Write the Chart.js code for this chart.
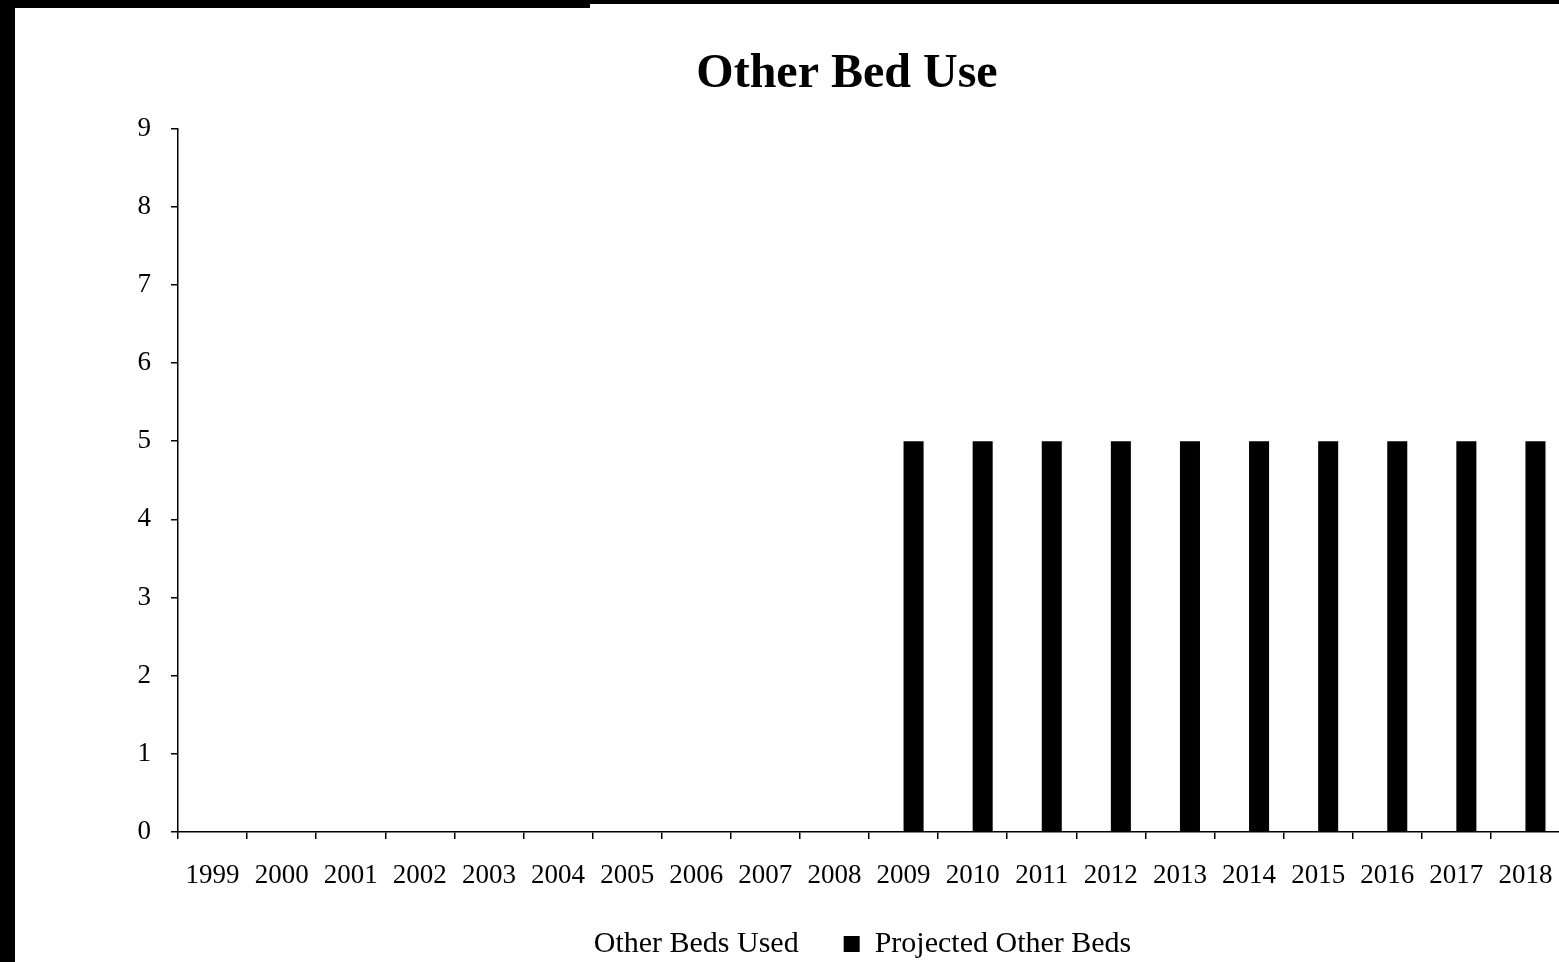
<!DOCTYPE html>
<html>
<head>
<meta charset="utf-8">
<title>Other Bed Use</title>
<script src="https://cdn.jsdelivr.net/npm/chart.js@4.4.0/dist/chart.umd.min.js"></script>
<style>
    html, body { margin: 0; padding: 0; background: #fff; overflow: hidden; }
    #wrap { position: absolute; left: 0; top: 0; width: 1700px; height: 969px; }
    .edge-left { position: absolute; left: 0; top: 0; width: 15px; height: 962px; background: #000; }
    .edge-top { position: absolute; left: 0; top: 0; width: 590px; height: 8px; background: #000; }
    .edge-top2 { position: absolute; left: 590px; top: 0; width: 969px; height: 4px; background: #000; }
</style>
</head>
<body>
<div id="wrap"><canvas id="bedChart" width="1700" height="969"></canvas></div>
<div class="edge-left"></div>
<div class="edge-top"></div>
<div class="edge-top2"></div>
<script>
const years = ['1999', '2000', '2001', '2002', '2003', '2004', '2005', '2006', '2007', '2008',
               '2009', '2010', '2011', '2012', '2013', '2014', '2015', '2016', '2017', '2018'];
const bedsUsed = [0, 0, 0, 0, 0, 0, 0, 0, 0, 0,
                  null, null, null, null, null, null, null, null, null, null];
const projectedBeds = [null, null, null, null, null, null, null, null, null, null,
                       5, 5, 5, 5, 5, 5, 5, 5, 5, 5];
const yTicks = [0, 1, 2, 3, 4, 5, 6, 7, 8, 9];

const serif = "'Liberation Serif', 'Times New Roman', serif";

document.addEventListener('DOMContentLoaded', function() {
    const ctx = document.getElementById('bedChart');

    new Chart(ctx, {
        type: 'bar',
        data: {
            labels: years,
            datasets: [
                {
                    label: 'Other Beds Used',
                    data: bedsUsed,
                    backgroundColor: '#ffffff',
                    borderWidth: 0,
                    categoryPercentage: 0.58,
                    barPercentage: 1.0
                },
                {
                    label: 'Projected Other Beds',
                    data: projectedBeds,
                    backgroundColor: '#000000',
                    borderWidth: 0,
                    categoryPercentage: 0.58,
                    barPercentage: 1.0
                }
            ]
        },
        options: {
            responsive: false,
            animation: false,
            devicePixelRatio: 1,
            // left padding shifts the centred title/legend to the right, y scale shrinks to match
            layout: { padding: { left: 134, right: 140, top: 46, bottom: 0 } },
            plugins: {
                title: {
                    display: true,
                    text: 'Other Bed Use',
                    color: '#000',
                    font: { family: serif, size: 48, weight: 'bold' },
                    padding: { top: 0, bottom: 25 }
                },
                legend: {
                    position: 'bottom',
                    labels: {
                        color: '#000',
                        font: { family: serif, size: 30 },
                        boxWidth: 16,
                        boxHeight: 16,
                        padding: 45
                    }
                },
                tooltip: { enabled: false }
            },
            scales: {
                x: {
                    grid: {
                        display: true,
                        drawOnChartArea: false,
                        drawTicks: true,
                        tickLength: 7,
                        color: '#000',
                        lineWidth: 1.5
                    },
                    border: { display: true, color: '#000', width: 1.5 },
                    ticks: {
                        color: '#000',
                        font: { family: serif, size: 27 },
                        maxRotation: 0,
                        autoSkip: false,
                        padding: 21
                    },
                    afterFit: function(scale) { scale.height = 52; }
                },
                y: {
                    min: 0,
                    max: 9,
                    afterBuildTicks: function(scale) { scale.ticks = yTicks.map(v => ({ value: v })); },
                    grid: {
                        display: true,
                        drawOnChartArea: false,
                        drawTicks: true,
                        tickLength: 7,
                        color: '#000',
                        lineWidth: 1.5
                    },
                    border: { display: true, color: '#000', width: 1.5 },
                    ticks: {
                        color: '#000',
                        font: { family: serif, size: 27 },
                        padding: 20
                    },
                    afterFit: function(scale) { scale.width = 44; }
                }
            }
        }
    });
});
</script>
</body>
</html>
